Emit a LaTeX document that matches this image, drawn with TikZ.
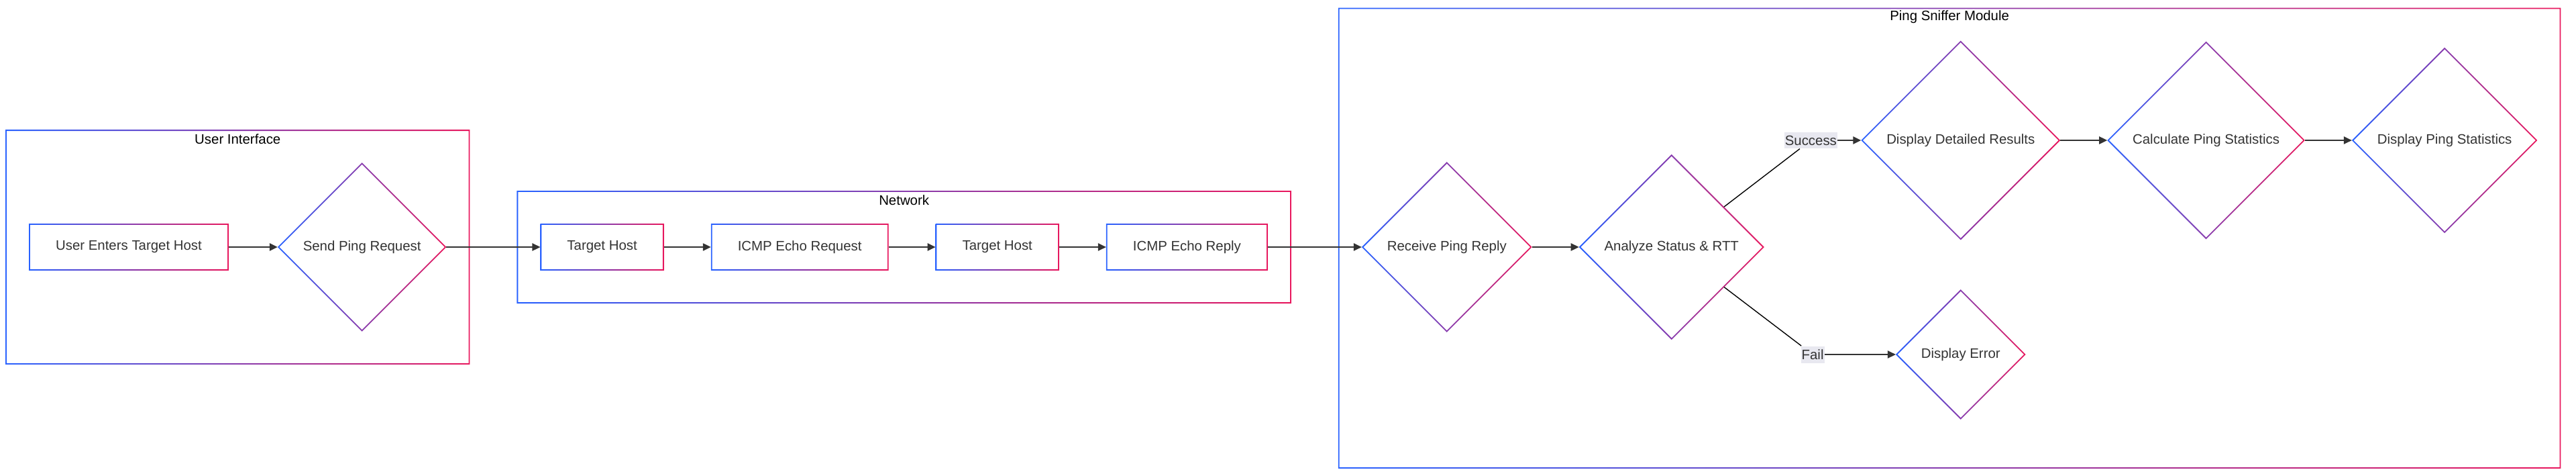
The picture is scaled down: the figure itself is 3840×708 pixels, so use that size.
\documentclass[tikz,border=0pt]{standalone}
\usepackage{fontspec}
\setmainfont{Liberation Sans}
\usetikzlibrary{arrows.meta, positioning, calc, shapes.geometric, fit}
\definecolor{gblue}{HTML}{2962FF}
\definecolor{gred}{HTML}{E8175D}
\definecolor{txtgray}{HTML}{333333}
\definecolor{lblfill}{HTML}{E8E8F0}

\begin{document}
\begin{tikzpicture}[
    x=0.5pt, y=-0.5pt,
    node distance=35pt,
    font=\fontsize{10.2}{12.2}\selectfont,
    proc/.style={rectangle, text=txtgray, inner xsep=20pt, minimum height=35pt, outer sep=0pt},
    decision/.style={diamond, aspect=1, text=txtgray, inner sep=7.1pt, outer sep=0pt},
    cluster/.style={rectangle, inner xsep=17.5pt, inner ysep=24.5pt, outer sep=0pt},
    title/.style={text=black},
    edgelabel/.style={fill=lblfill, text=txtgray, inner xsep=0.5pt, inner ysep=2.5pt},
    line/.style={draw=txtgray, line width=0.9pt, -{Triangle[length=6pt, width=5.6pt]}},
    plain/.style={draw=black, line width=0.7pt}
]
    \useasboundingbox (0,0) rectangle (3840,708);

    % user interface
    \node[proc] (ue) at (192,368) {User Enters Target Host};
    \node[decision, right=36.5pt of ue] (spr) {Send Ping Request};

    % network
    \node[proc, right=70pt of spr] (th1) {Target Host};
    \node[proc, right=of th1] (icmpreq) {ICMP Echo Request};
    \node[proc, right=of icmpreq] (th2) {Target Host};
    \node[proc, right=of th2] (icmprep) {ICMP Echo Reply};

    % ping sniffer module
    \node[decision, right=70pt of icmprep] (rpr) {Receive Ping Reply};
    \node[decision, right=of rpr] (ast) {Analyze Status \& RTT};
    \node[decision] (ddr) at ($(ast)+(431,-159)$) {Display Detailed Results};
    \node[decision, right=of ddr] (cps) {Calculate Ping Statistics};
    \node[decision, right=of cps] (dps) {Display Ping Statistics};
    \node[decision] (de) at ($(ddr)+(0,319)$) {Display Error};
    \node[edgelabel, left=17.5pt of ddr] (succ) {Success};
    \node[edgelabel, left=53pt of de] (fail) {Fail};

    % frames
    \coordinate (psmfoot) at ($(de.south)+(0,24)$);
    \node[cluster, fit=(ue)(spr)] (ui) {};
    \node[cluster, fit=(th1)(icmprep)] (net) {};
    \node[cluster, fit=(rpr)(ddr)(cps)(dps)(de)(psmfoot)] (psm) {};
    \node[title] at ($(ui.north)+(0,14)$) {User Interface};
    \node[title] at ($(net.north)+(0,14)$) {Network};
    \node[title] at ($(psm.north)+(0,14)$) {Ping Sniffer Module};

    % gradient borders
    \foreach \n in {ui,net,psm,ue,th1,icmpreq,th2,icmprep}
        \shade[left color=gblue, right color=gred, even odd rule]
            (\n.south west) rectangle (\n.north east)
            ([shift={(0.9pt,0.9pt)}]\n.south west) rectangle ([shift={(-0.9pt,-0.9pt)}]\n.north east);
    \foreach \n in {spr,rpr,ast,ddr,cps,dps,de}
        \shade[left color=gblue, right color=gred, even odd rule]
            (\n.west) -- (\n.north) -- (\n.east) -- (\n.south) -- cycle
            ([xshift=1.3pt]\n.west) -- ([yshift=-1.3pt]\n.north) -- ([xshift=-1.3pt]\n.east) -- ([yshift=1.3pt]\n.south) -- cycle;

    \draw[line] (ue) -- (spr);
    \draw[line] (spr) -- (th1);
    \draw[line] (th1) -- (icmpreq);
    \draw[line] (icmpreq) -- (th2);
    \draw[line] (th2) -- (icmprep);
    \draw[line] (icmprep) -- (rpr);
    \draw[line] (rpr) -- (ast);
    \draw[plain] (ast) -- (succ);
    \draw[line] (succ) -- (ddr);
    \draw[plain] (ast) -- (fail);
    \draw[line] (fail) -- (de);
    \draw[line] (ddr) -- (cps);
    \draw[line] (cps) -- (dps);

\end{tikzpicture}
\end{document}
